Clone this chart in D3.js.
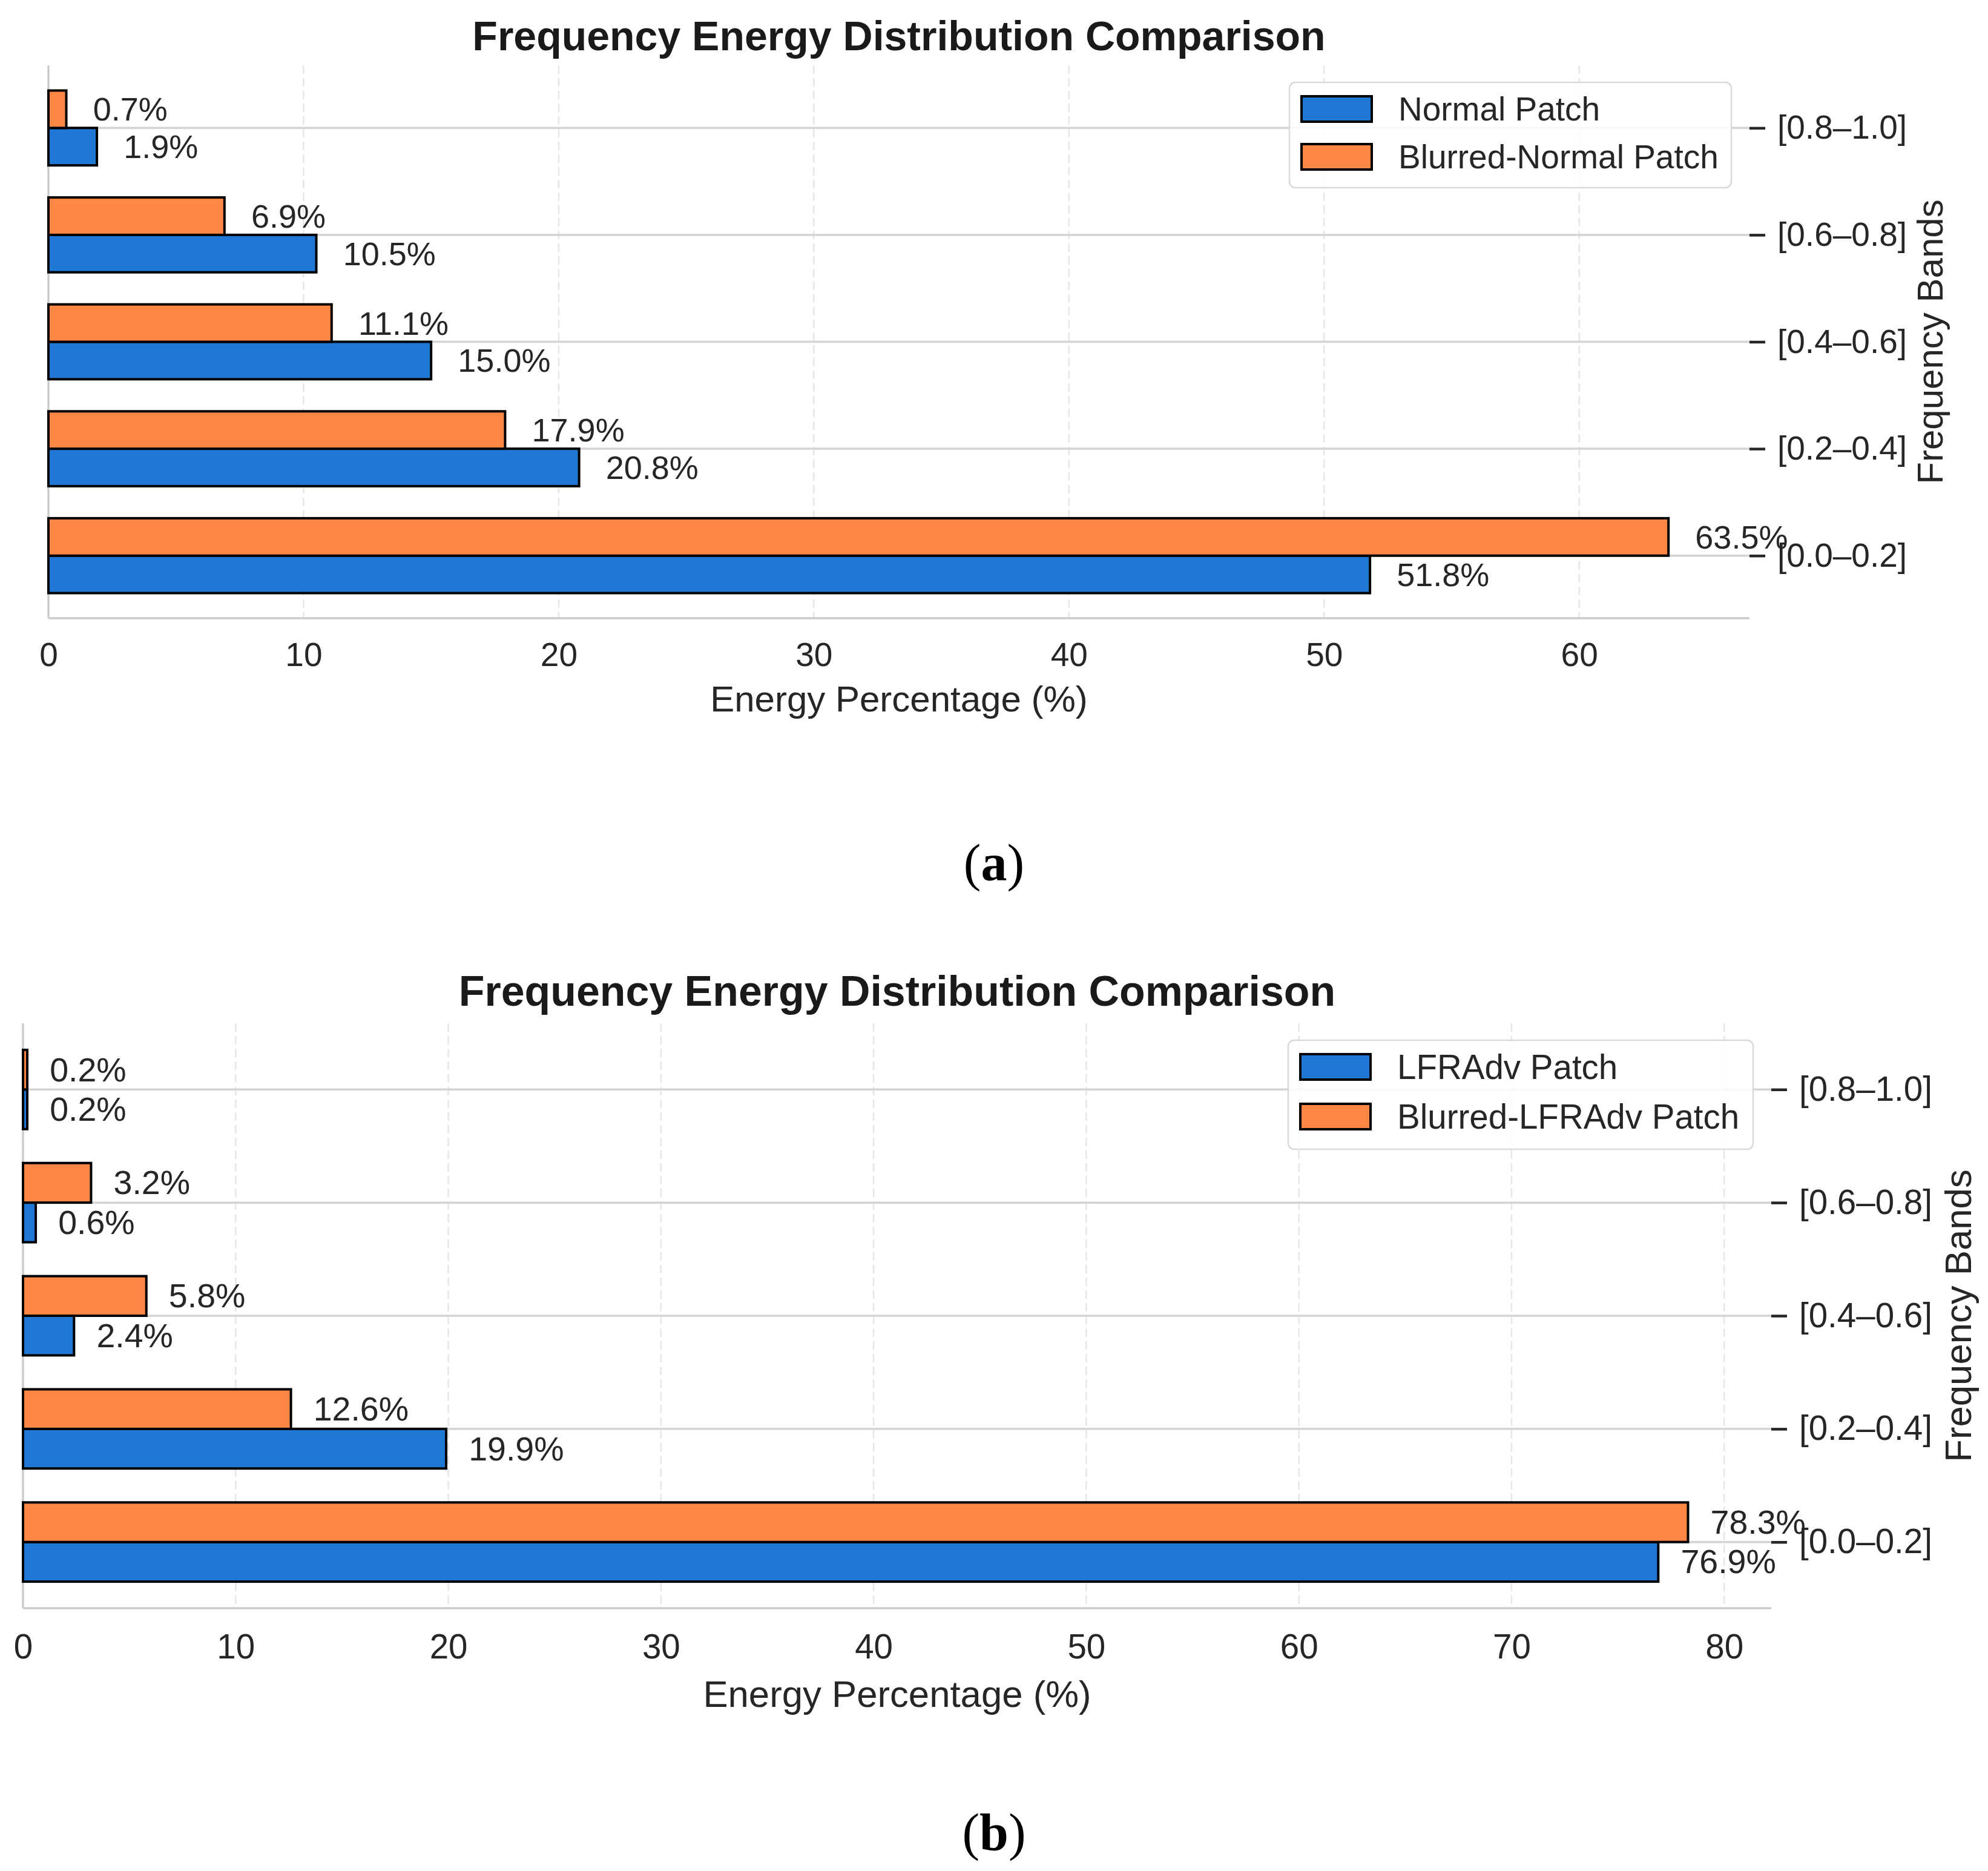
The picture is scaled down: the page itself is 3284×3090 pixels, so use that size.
<!DOCTYPE html>
<html>
<head>
<meta charset="utf-8">
<script src="https://cdn.jsdelivr.net/npm/d3@7"></script>
<style>
  body { margin: 0; background: #fff; }
  text { font-family: "Liberation Sans", Arial, sans-serif; fill: #262626; }
</style>
</head>
<body>
<script>
// Frequency bands, bottom to top
var bands = ["[0.0–0.2]", "[0.2–0.4]", "[0.4–0.6]", "[0.6–0.8]", "[0.8–1.0]"];

// (a) normal patch vs blurred normal patch
var seriesNamesA = ["Normal Patch", "Blurred-Normal Patch"];
var normalPatch = [51.8, 20.8, 15.0, 10.5, 1.9];
var blurredNormalPatch = [63.5, 17.9, 11.1, 6.9, 0.7];
var xTicksA = [0, 10, 20, 30, 40, 50, 60];

// (b) LFRAdv patch vs blurred LFRAdv patch
var seriesNamesB = ["LFRAdv Patch", "Blurred-LFRAdv Patch"];
var lfradvPatch = [76.9, 19.9, 2.4, 0.6, 0.2];
var blurredLfradvPatch = [78.3, 12.6, 5.8, 3.2, 0.2];
var xTicksB = [0, 10, 20, 30, 40, 50, 60, 70, 80];

var blue = "#1f78d3", orange = "#ff8745";
var barH = 0.35;

var svg = d3.select("body").append("svg")
    .attr("width", 3284)
    .attr("height", 3090);

drawChart({
  left: 80, right: 2890, top: 108, bottom: 1021, fs: 1,
  first: normalPatch, second: blurredNormalPatch, names: seriesNamesA,
  ticks: xTicksA, tickPad: 40, xlabelY: 1154, ylabelX: 3188, titleY: 83,
  legendW: 730, legendH: 174, caption: "a", captionY: 1454
});

drawChart({
  left: 38, right: 2926, top: 1690, bottom: 2656, fs: 1.028,
  first: lfradvPatch, second: blurredLfradvPatch, names: seriesNamesB,
  ticks: xTicksB, tickPad: 43, xlabelY: 2797, ylabelX: 3234, titleY: 1661,
  legendW: 768, legendH: 180, caption: "b", captionY: 3055
});

function drawChart(o) {
  var g = svg.append("g");
  var maxV = d3.max(o.first.concat(o.second));
  function fpx(s) { return (s * o.fs).toFixed(1) + "px"; }

  // matplotlib style limits: 5% margin on the right, 5% on both ends in y
  var x = d3.scaleLinear().domain([0, maxV * 1.05]).range([o.left, o.right]);
  var yExt = 4 + barH - (-barH);
  var y = d3.scaleLinear()
      .domain([-barH - yExt * 0.05, 4 + barH + yExt * 0.05])
      .range([o.bottom, o.top]);

  // vertical dashed grid
  g.selectAll("line.vgrid").data(o.ticks).enter().append("line")
      .attr("class", "vgrid")
      .attr("x1", function(d) { return x(d); })
      .attr("x2", function(d) { return x(d); })
      .attr("y1", o.top).attr("y2", o.bottom)
      .attr("stroke", "#e6e6e6")
      .attr("stroke-width", 2.5)
      .attr("stroke-dasharray", "14,7");

  // horizontal grid at band centres
  g.selectAll("line.hgrid").data(bands).enter().append("line")
      .attr("class", "hgrid")
      .attr("x1", o.left).attr("x2", o.right)
      .attr("y1", function(d, i) { return y(i); })
      .attr("y2", function(d, i) { return y(i); })
      .attr("stroke", "#d4d4d4")
      .attr("stroke-width", 3.5);

  // spines (left and bottom only)
  g.append("line")
      .attr("x1", o.left).attr("x2", o.left)
      .attr("y1", o.top).attr("y2", o.bottom)
      .attr("stroke", "#cccccc").attr("stroke-width", 3.5);
  g.append("line")
      .attr("x1", o.left).attr("x2", o.right)
      .attr("y1", o.bottom).attr("y2", o.bottom)
      .attr("stroke", "#cccccc").attr("stroke-width", 3.5);

  // bars: first series below the band centre, second above
  g.selectAll("rect.first").data(o.first).enter().append("rect")
      .attr("class", "first")
      .attr("x", x(0))
      .attr("y", function(d, i) { return y(i); })
      .attr("width", function(d) { return x(d) - x(0); })
      .attr("height", y(0) - y(barH))
      .attr("fill", blue)
      .attr("stroke", "#000").attr("stroke-width", 4);

  g.selectAll("rect.second").data(o.second).enter().append("rect")
      .attr("class", "second")
      .attr("x", x(0))
      .attr("y", function(d, i) { return y(i + barH); })
      .attr("width", function(d) { return x(d) - x(0); })
      .attr("height", y(0) - y(barH))
      .attr("fill", orange)
      .attr("stroke", "#000").attr("stroke-width", 4);

  // value labels
  g.selectAll("text.v1").data(o.first).enter().append("text")
      .attr("class", "v1")
      .attr("x", function(d) { return x(d + 1) + 2; })
      .attr("y", function(d, i) { return y(i - barH / 2); })
      .attr("dominant-baseline", "central")
      .style("font-size", fpx(54))
      .text(function(d) { return d.toFixed(1) + "%"; });

  g.selectAll("text.v2").data(o.second).enter().append("text")
      .attr("class", "v2")
      .attr("x", function(d) { return x(d + 1) + 2; })
      .attr("y", function(d, i) { return y(i + barH / 2); })
      .attr("dominant-baseline", "central")
      .style("font-size", fpx(54))
      .text(function(d) { return d.toFixed(1) + "%"; });

  // x axis
  var xAxis = g.append("g")
      .attr("transform", "translate(0," + o.bottom + ")")
      .call(d3.axisBottom(x).tickValues(o.ticks).tickSize(0).tickPadding(o.tickPad));
  xAxis.select(".domain").remove();
  xAxis.selectAll("text").style("font-size", fpx(55)).attr("fill", "#262626");

  // y axis on the right
  var yAxis = g.append("g")
      .attr("transform", "translate(" + o.right + ",0)")
      .call(d3.axisRight(y).tickValues(d3.range(bands.length))
        .tickFormat(function(i) { return bands[i]; })
        .tickSize(26).tickPadding(20));
  yAxis.select(".domain").remove();
  yAxis.selectAll("line").attr("stroke", "#262626").attr("stroke-width", 4.5);
  yAxis.selectAll("text").style("font-size", fpx(55)).attr("fill", "#262626");

  // axis titles
  g.append("text")
      .attr("x", (o.left + o.right) / 2)
      .attr("y", o.xlabelY)
      .attr("text-anchor", "middle")
      .attr("dominant-baseline", "central")
      .style("font-size", fpx(60))
      .text("Energy Percentage (%)");

  g.append("text")
      .attr("transform", "translate(" + o.ylabelX + "," + ((o.top + o.bottom) / 2) + ") rotate(-90)")
      .attr("text-anchor", "middle")
      .attr("dominant-baseline", "central")
      .style("font-size", fpx(60))
      .text("Frequency Bands");

  // title
  g.append("text")
      .attr("x", (o.left + o.right) / 2)
      .attr("y", o.titleY)
      .attr("text-anchor", "middle")
      .style("font-size", fpx(68))
      .style("font-weight", "bold")
      .style("fill", "#1a1a1a")
      .text("Frequency Energy Distribution Comparison");

  // legend
  var lx = o.right - 30 - o.legendW, ly = o.top + 28;
  var legend = g.append("g").attr("transform", "translate(" + lx + "," + ly + ")");
  legend.append("rect")
      .attr("width", o.legendW).attr("height", o.legendH)
      .attr("rx", 10)
      .attr("fill", "#fff").attr("fill-opacity", 0.85)
      .attr("stroke", "#d9d9d9").attr("stroke-width", 2.5);
  var rowH = (o.legendH - 16) / 2;
  var items = legend.selectAll("g.item").data(o.names).enter().append("g")
      .attr("class", "item")
      .attr("transform", function(d, i) { return "translate(20," + (23 + i * rowH) + ")"; });
  items.append("rect")
      .attr("width", 116).attr("height", 42)
      .attr("fill", function(d, i) { return i === 0 ? blue : orange; })
      .attr("stroke", "#000").attr("stroke-width", 4);
  items.append("text")
      .attr("x", 160).attr("y", 21)
      .attr("dominant-baseline", "central")
      .style("font-size", fpx(55))
      .text(function(d) { return d; });

  // sub-figure caption
  var cap = svg.append("text")
      .attr("x", 1642).attr("y", o.captionY)
      .attr("text-anchor", "middle")
      .style("font-family", "'Liberation Serif', 'Times New Roman', serif")
      .style("font-size", "86px")
      .style("fill", "#000");
  cap.append("tspan").text("(");
  cap.append("tspan").style("font-weight", "bold").text(o.caption);
  cap.append("tspan").text(")");
}
</script>
</body>
</html>
